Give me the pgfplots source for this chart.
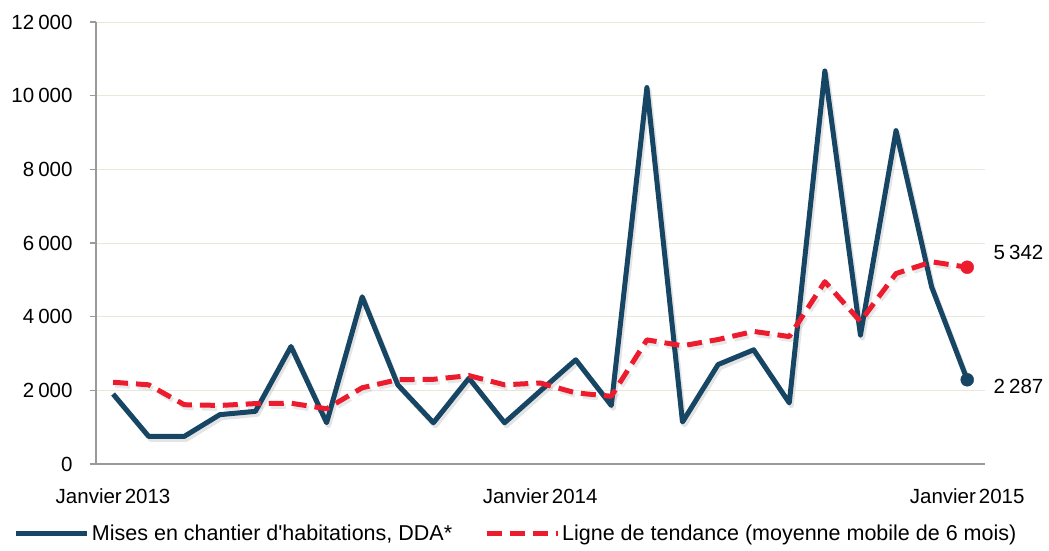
\documentclass[border=0pt]{standalone}
\usepackage{pgfplots}
\pgfplotsset{compat=1.18}
\usepackage{fontspec}
\setmainfont{Liberation Sans}
\definecolor{bleu}{HTML}{174564}
\definecolor{rouge}{HTML}{EC1B2E}
\definecolor{grille}{HTML}{EAE6D8}
\definecolor{axe}{HTML}{9A9A9A}
\begin{document}
\begin{tikzpicture}
\path[use as bounding box] (-96pt,-86pt) rectangle (953pt,464pt);
\begin{axis}[
  scale only axis, width=889pt, height=442pt,
  at={(0pt,0pt)}, anchor=south west,
  xmin=-0.48, xmax=24.5, ymin=0, ymax=12000,
  axis lines=left, axis line style={-, draw=axe, line width=1.2pt},
  xtick={0,12,24}, xticklabels={Janvier\hspace{3pt}2013, Janvier\hspace{3pt}2014, Janvier\hspace{3pt}2015},
  xtick style={draw=none},
  ytick={0,2000,...,12000}, ytick pos=left, tick align=outside,
  major tick length=6pt, ytick style={draw=axe, line width=1.2pt},
  ymajorgrids, grid style={draw=grille, line width=1pt},
  scaled y ticks=false,
  /pgf/number format/assume math mode=true,
  /pgf/number format/.cd, fixed, 1000 sep={\hspace{4pt}}, /pgfplots/.cd,
  ticklabel style={font=\fontsize{20.5}{24}\selectfont},
  xticklabel style={yshift=-15pt},
  yticklabel style={xshift=-14pt},
  legend columns=2,
  legend style={at={(-0.0925,-0.157)}, anchor=west, draw=none, fill=none,
    font=\fontsize{21.5}{24}\selectfont, inner sep=0pt,
    /tikz/every even column/.append style={column sep=30pt}},
  legend image code/.code={\draw[#1] (0pt,0pt) -- (71pt,0pt);},
  clip=false,
]
% shadows
\addplot[forget plot, black!30, line width=5pt, opacity=0.35, line join=round, shift={(2pt,-3pt)}] coordinates {
(0,1900) (1,750) (2,750) (3,1340) (4,1430) (5,3190) (6,1120) (7,4540) (8,2150) (9,1120)
(10,2330) (11,1120) (12,1980) (13,2830) (14,1590) (15,10220) (16,1140) (17,2700) (18,3100)
(19,1660) (20,10670) (21,3500) (22,9050) (23,4810) (24,2287)};
\addplot[forget plot, black!30, line width=5pt, opacity=0.3, line join=round, dash pattern=on 15pt off 8pt, shift={(2pt,-3pt)}] coordinates {
(0,2220) (1,2150) (2,1610) (3,1590) (4,1640) (5,1650) (6,1500) (7,2070) (8,2290) (9,2300)
(10,2400) (11,2150) (12,2200) (13,1930) (14,1840) (15,3370) (16,3210) (17,3380) (18,3600)
(19,3460) (20,4950) (21,3870) (22,5170) (23,5490) (24,5342)};
\addplot[bleu, line width=5pt, line join=round] coordinates {
(0,1900) (1,750) (2,750) (3,1340) (4,1430) (5,3190) (6,1120) (7,4540) (8,2150) (9,1120)
(10,2330) (11,1120) (12,1980) (13,2830) (14,1590) (15,10220) (16,1140) (17,2700) (18,3100)
(19,1660) (20,10670) (21,3500) (22,9050) (23,4810) (24,2287)};
\addlegendentry{Mises en chantier d\textquotesingle habitations, DDA*}
\addplot[rouge, line width=5pt, dash pattern=on 15pt off 8pt, line join=round] coordinates {
(0,2220) (1,2150) (2,1610) (3,1590) (4,1640) (5,1650) (6,1500) (7,2070) (8,2290) (9,2300)
(10,2400) (11,2150) (12,2200) (13,1930) (14,1840) (15,3370) (16,3210) (17,3380) (18,3600)
(19,3460) (20,4950) (21,3870) (22,5170) (23,5490) (24,5342)};
\addlegendentry{Ligne de tendance (moyenne mobile de 6 mois)}
\addplot[forget plot, only marks, mark=*, mark size=6.5pt, bleu] coordinates {(24,2287)};
\addplot[forget plot, only marks, mark=*, mark size=6.5pt, rouge] coordinates {(24,5342)};
\node[anchor=west, font=\fontsize{20.5}{24}\selectfont] at (axis cs:24,5342) [xshift=23pt, yshift=15pt] {5\hspace{4pt}342};
\node[anchor=west, font=\fontsize{20.5}{24}\selectfont] at (axis cs:24,2287) [xshift=23pt, yshift=-7pt] {2\hspace{4pt}287};
\end{axis}
\end{tikzpicture}
\end{document}
